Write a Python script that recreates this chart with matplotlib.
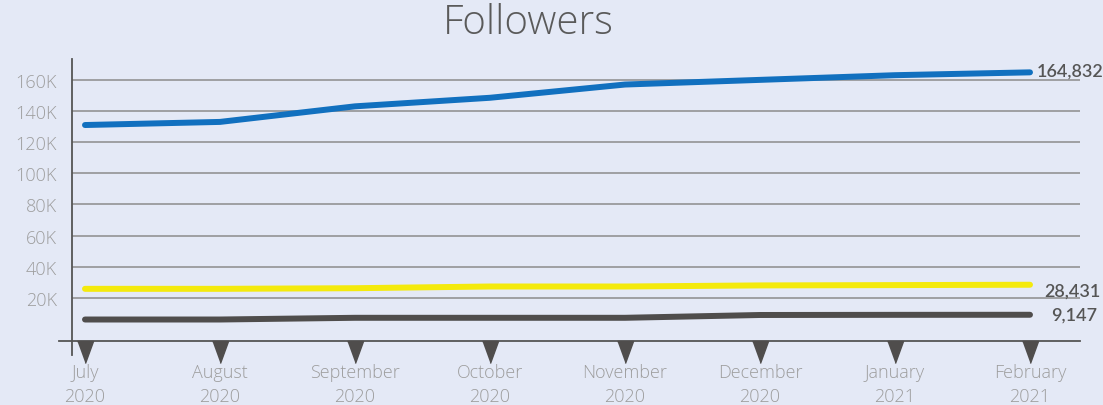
import matplotlib.pyplot as plt
from matplotlib.lines import Line2D
import matplotlib.transforms as mtransforms
import numpy as np

plt.rcParams['font.family'] = ['Lato', 'DejaVu Sans']

months = ["July\n2020", "August\n2020", "September\n2020", "October\n2020",
          "November\n2020", "December\n2020", "January\n2021", "February\n2021"]
blue_vals = [131000, 133000, 143000, 148500, 157000, 160000, 163000, 164832]
yellow_vals = [25800, 25800, 26200, 27300, 27300, 28000, 28200, 28431]
dark_vals = [6100, 6100, 7200, 7200, 7200, 9000, 9100, 9147]
y_ticks = [20000, 40000, 60000, 80000, 100000, 120000, 140000, 160000]
y_labels = ["20K", "40K", "60K", "80K", "100K", "120K", "140K", "160K"]

bg = '#e4e9f6'
blue = '#1170bf'
yellow = '#f4ea0c'
dark = '#4f4d4c'
label_gray = '#9d9d9d'

fig = plt.figure(figsize=(11.03, 4.06), dpi=100)
fig.patch.set_facecolor(bg)
ax = fig.add_axes([72/1103, 1 - 342/406, 1008/1103, 282/406])
ax.set_facecolor(bg)

x = np.arange(len(months))
ax.set_xlim(-13/135, 7 + 50/135)
ax.set_ylim(-7700, 173400)

# grid
for t in y_ticks:
    ax.axhline(t, color='#8c8c8c', lw=1.1, zorder=1)

ax.plot(x, blue_vals, color=blue, lw=4.3, solid_capstyle='round', zorder=3)
ax.plot(x, yellow_vals, color=yellow, lw=4.3, solid_capstyle='round', zorder=3)
ax.plot(x, dark_vals, color=dark, lw=4.3, solid_capstyle='round', zorder=3)

# end labels
ax.annotate(f"{blue_vals[-1]:,}", (x[-1], blue_vals[-1]), xytext=(5, 1),
            textcoords='offset points', va='center', ha='left',
            fontsize=13, color='#555555', fontweight='semibold')
ax.annotate(f"{yellow_vals[-1]:,}", (x[-1], yellow_vals[-1]), xytext=(10, -4),
            textcoords='offset points', va='center', ha='left',
            fontsize=13, color='#555555', fontweight='semibold')
ax.annotate(f"{dark_vals[-1]:,}", (x[-1], dark_vals[-1]), xytext=(15, 0),
            textcoords='offset points', va='center', ha='left',
            fontsize=13, color='#555555', fontweight='semibold')

# axes lines
for s in ax.spines.values():
    s.set_visible(False)
ax.add_line(Line2D([0, 0], [-14/282, 1], transform=ax.transAxes,
                   color='#555555', lw=1.3, clip_on=False))
ax.add_line(Line2D([-13/1008, 1], [0, 0], transform=ax.transAxes,
                   color='#555555', lw=1.3, clip_on=False))

# triangle tick markers
trans = mtransforms.blended_transform_factory(ax.transData, ax.transAxes)
ax.plot(x, [0] * len(x), linestyle='none', transform=trans,
        marker=[(-8, 0), (8, 0), (0, -22)], markersize=31.7,
        color=dark, clip_on=False, zorder=4)

ax.set_yticks(y_ticks)
ax.set_yticklabels(y_labels)
ax.set_xticks(x)
ax.set_xticklabels(months, linespacing=1.4)
ax.tick_params(axis='both', length=0, colors=label_gray, labelsize=13)
ax.tick_params(axis='y', pad=11)
ax.tick_params(axis='x', pad=16)
for lab in ax.get_xticklabels() + ax.get_yticklabels():
    lab.set_family(['Open Sans', 'DejaVu Sans'])
    lab.set_fontweight('light')

fig.text(528/1103, 1 - 24/406, "Followers", ha='center', va='center',
         fontsize=29, color='#5a5a5a', fontweight='light',
         family=['Open Sans', 'DejaVu Sans'])

fig.savefig('out.png', dpi=100, facecolor=bg)
